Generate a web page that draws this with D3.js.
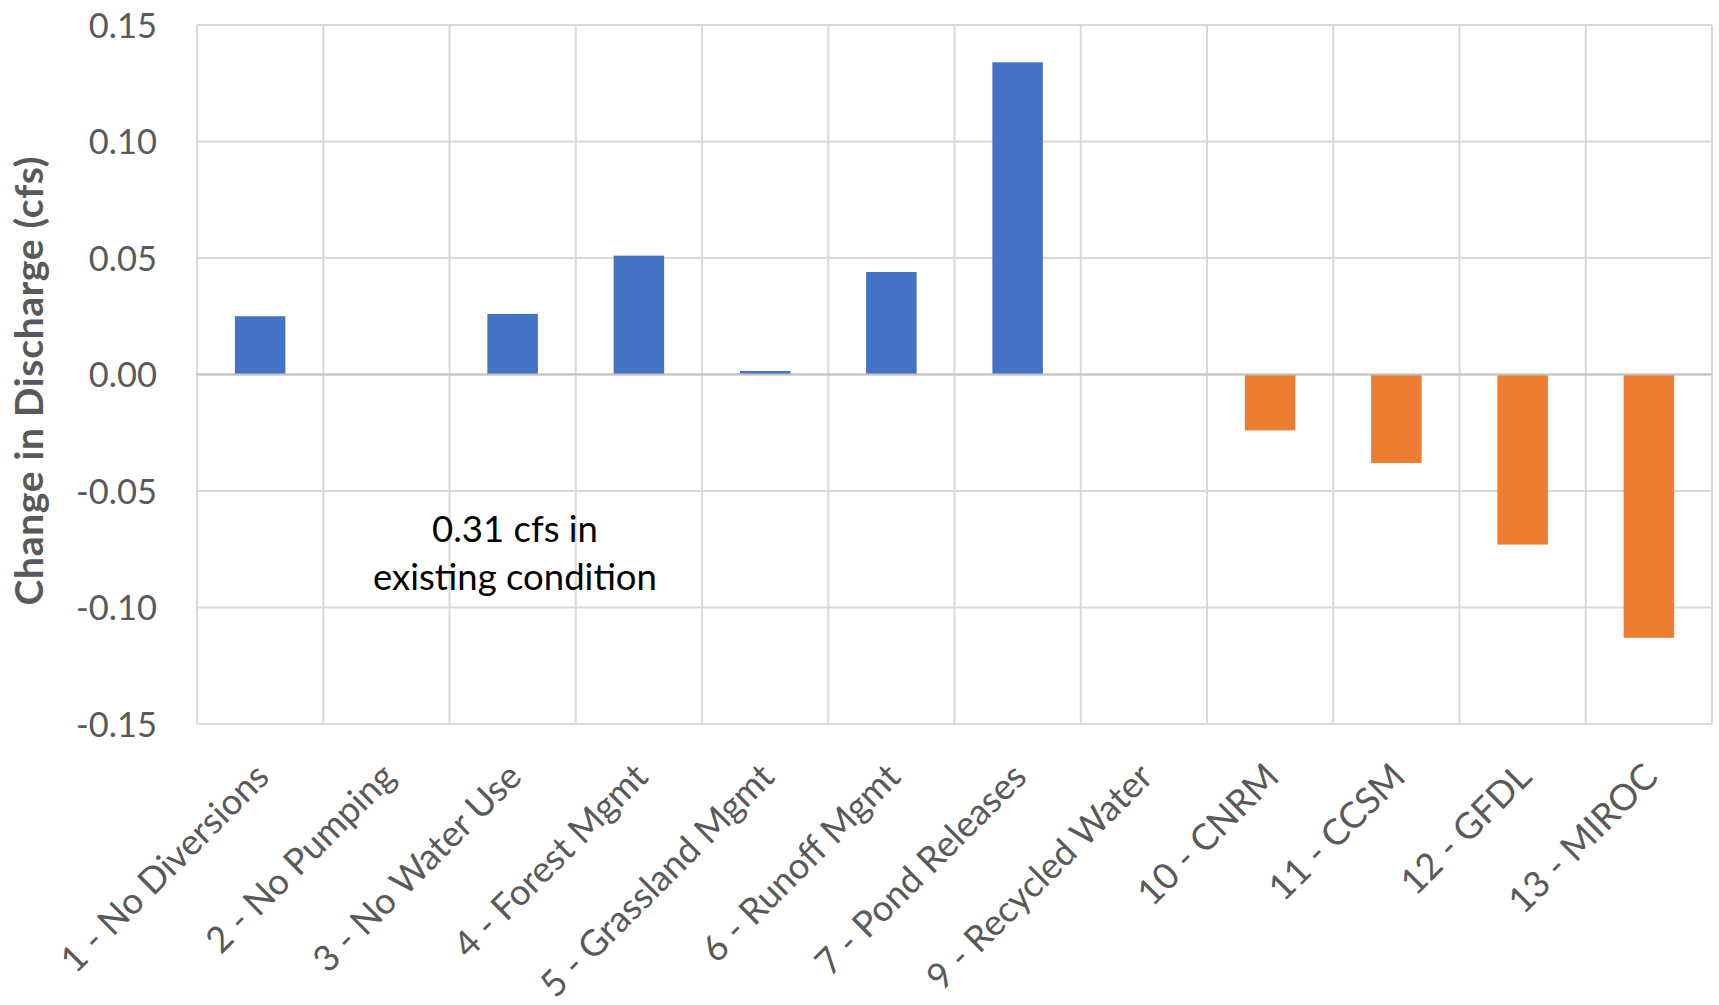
<!DOCTYPE html>
<html>
<head>
<meta charset="utf-8">
<script src="https://cdn.jsdelivr.net/npm/d3@7"></script>
<style>
  html, body { margin: 0; padding: 0; background: #fff; }
  svg { display: block; }
  text { font-family: Lato, "Open Sans", sans-serif; }
</style>
</head>
<body>
<svg id="chart" width="1719" height="1005"></svg>
<script>
// ---- data ----
const categories = [
  "1 - No Diversions", "2 - No Pumping", "3 - No Water Use", "4 - Forest Mgmt",
  "5 - Grassland Mgmt", "6 - Runoff Mgmt", "7 - Pond Releases", "9 - Recycled Water",
  "10 - CNRM", "11 - CCSM", "12 - GFDL", "13 - MIROC"
];
const changeInDischarge = [0.025, 0, 0.026, 0.051, 0.0015, 0.044, 0.134, 0, -0.024, -0.038, -0.073, -0.113];
const seriesGroup = ["scenario", "scenario", "scenario", "scenario", "scenario", "scenario", "scenario", "scenario",
                     "climate", "climate", "climate", "climate"];
const yTickValues = [-0.15, -0.10, -0.05, 0.00, 0.05, 0.10, 0.15];
const yTickLabels = ["-0.15", "-0.10", "-0.05", "0.00", "0.05", "0.10", "0.15"];
const yAxisTitle = "Change in Discharge (cfs)";
const annotationLines = ["0.31 cfs in", "existing condition"];

// ---- layout ----
const svg = d3.select("#chart");
const plotLeft = 197, plotRight = 1712, plotTop = 25, plotBottom = 724;
const gridColor = "#d9d9d9";
const textColor = "#595959";
const tickFontSize = 34.5;
const labelFontSize = 36.2;
const colors = { scenario: "#4472C4", climate: "#ED7D31" };

const x = d3.scaleBand().domain(categories).range([plotLeft, plotRight]).padding(0);
const y = d3.scaleLinear().domain([-0.15, 0.15]).range([plotBottom, plotTop]);

// horizontal gridlines
svg.append("g").selectAll("line").data(yTickValues).join("line")
  .attr("x1", plotLeft).attr("x2", plotRight)
  .attr("y1", d => y(d)).attr("y2", d => y(d))
  .attr("stroke", gridColor).attr("stroke-width", 2);

// vertical gridlines at category boundaries
const boundaries = categories.map(c => x(c)).concat([x(categories[categories.length - 1]) + x.bandwidth()]);
svg.append("g").selectAll("line").data(boundaries).join("line")
  .attr("x1", d => d).attr("x2", d => d)
  .attr("y1", plotTop).attr("y2", plotBottom)
  .attr("stroke", gridColor).attr("stroke-width", 2);

// bars
const barW = x.bandwidth() * 0.4;
svg.append("g").selectAll("rect").data(categories.map((c, i) => ({ c, v: changeInDischarge[i], g: seriesGroup[i] })))
  .join("rect")
  .attr("x", d => x(d.c) + (x.bandwidth() - barW) / 2)
  .attr("width", barW)
  .attr("y", d => Math.min(y(d.v), y(0)))
  .attr("height", d => Math.abs(y(d.v) - y(0)))
  .attr("fill", d => colors[d.g]);

// zero line (category axis)
svg.append("line")
  .attr("x1", plotLeft).attr("x2", plotRight)
  .attr("y1", y(0)).attr("y2", y(0))
  .attr("stroke", "#c4c4c4").attr("stroke-width", 2);

// y axis labels
const yAxis = d3.axisLeft(y).tickValues(yTickValues)
  .tickFormat((d, i) => yTickLabels[i]).tickSize(0).tickPadding(0);
const gy = svg.append("g").attr("transform", `translate(${157},0)`).call(yAxis);
gy.select(".domain").remove();
gy.selectAll("text")
  .attr("fill", textColor)
  .style("font-family", "Lato, 'Open Sans', sans-serif")
  .style("font-size", tickFontSize + "px")
  .attr("x", 0).attr("dy", "0.35em");

// x axis labels (rotated)
const xAxis = d3.axisBottom(x).tickSize(0).tickPadding(0);
const gx = svg.append("g").attr("transform", `translate(0,${plotBottom})`).call(xAxis);
gx.select(".domain").remove();
gx.selectAll(".tick text")
  .attr("fill", textColor)
  .style("font-family", "Lato, 'Open Sans', sans-serif")
  .style("font-size", labelFontSize + "px")
  .attr("text-anchor", "end")
  .attr("x", 0).attr("y", 0).attr("dy", "0.35em")
  .attr("transform", "translate(2,46) rotate(-45)");

// y axis title
svg.append("text")
  .attr("transform", `translate(43,${381}) rotate(-90)`)
  .attr("text-anchor", "middle")
  .attr("fill", textColor)
  .attr("textLength", 449)
  .attr("lengthAdjust", "spacing")
  .style("font-size", "39px")
  .style("font-weight", "bold")
  .text(yAxisTitle);

// annotation
svg.append("text")
  .attr("x", 515).attr("y", 542)
  .attr("text-anchor", "middle")
  .attr("fill", "#000")
  .style("font-size", "36.5px")
  .selectAll("tspan").data(annotationLines).join("tspan")
  .attr("x", 515).attr("dy", (d, i) => i === 0 ? 0 : 48)
  .text(d => d);
</script>
</body>
</html>
